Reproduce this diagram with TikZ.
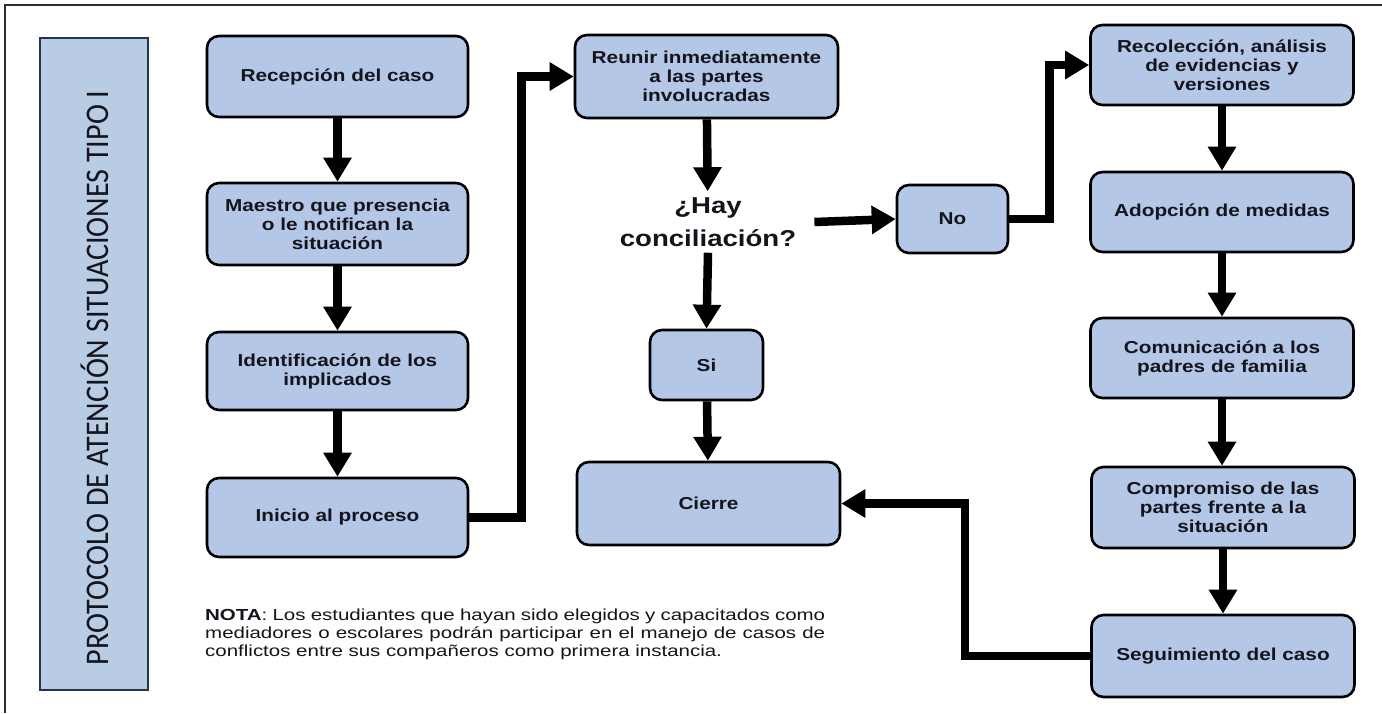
\documentclass[tikz,border=0pt]{standalone}
\usepackage{fontspec}
\usetikzlibrary{arrows.meta}
\newfontfamily\boxfont[FakeStretch=1.2]{Liberation Sans}
\newfontfamily\notefont[FakeStretch=1.28]{Liberation Sans}
\newfontfamily\titlefont{Carlito}
\definecolor{boxblue}{RGB}{180,199,231}
\definecolor{titleblue}{RGB}{184,204,228}
\definecolor{titleedge}{RGB}{38,52,78}
\definecolor{framegray}{RGB}{45,45,45}
\definecolor{ink}{RGB}{20,20,28}
\tikzset{
  stepbox/.style={draw=black, line width=2.6pt, rounded corners=12pt, fill=boxblue,
    align=center, text=ink, inner sep=2pt,
    font=\boxfont\bfseries\fontsize{17.3}{19}\selectfont},
  arr/.style={line width=8.5pt, -{Triangle[width=27pt,length=24pt]}},
}
\begin{document}
\begin{tikzpicture}[x=1pt,y=-1pt]
\useasboundingbox (0,0) rectangle (1382,713);
% frame
\draw[framegray, line width=1.5pt] (5,713) coordinate (fb) -- (5,5) coordinate (fc) -- (1382,5) coordinate (fr);
% title bar
\node[draw=titleedge, line width=1.2pt, fill=titleblue, minimum width=108pt, minimum height=652pt, inner sep=0pt] (tb) at (94,364) {};
\node[rotate=90, text=ink, inner sep=0pt] (title) at (95,378)
  {\resizebox{575pt}{\height}{\titlefont\fontsize{33}{33}\selectfont PROTOCOLO DE ATENCIÓN SITUACIONES TIPO I}};
% column 1
\node[stepbox, minimum width=261pt, minimum height=81pt] (rec) at (337.5,76.5) {Recepción del caso};
\node[stepbox, minimum width=261pt, minimum height=82pt] (mae) at (337.5,224) {Maestro que presencia\\o le notifican la\\situación};
\node[stepbox, minimum width=261pt, minimum height=78pt] (ide) at (337.5,371) {Identificación de los\\implicados};
\node[stepbox, minimum width=261pt, minimum height=79pt] (ini) at (337.5,517.5) {Inicio al proceso};
% column 2
\node[stepbox, minimum width=263pt, minimum height=83pt] (reu) at (706.5,76.5) {Reunir inmediatamente\\a las partes\\involucradas};
\node[align=center, text=ink, inner xsep=18pt, inner ysep=6pt,
  font=\boxfont\bfseries\fontsize{23}{33}\selectfont] (hay) at (708,222) {¿Hay\\conciliación?};
\node[stepbox, minimum width=113pt, minimum height=70pt] (si) at (706.5,365) {Si};
\node[stepbox, minimum width=263pt, minimum height=83pt] (cie) at (708.5,503.5) {Cierre};
\node[stepbox, minimum width=111pt, minimum height=68pt] (no) at (952.5,219) {No};
% column 3
\node[stepbox, minimum width=263pt, minimum height=80pt] (rc2) at (1222,65) {Recolección, análisis\\de evidencias y\\versiones};
\node[stepbox, minimum width=263pt, minimum height=80pt] (ado) at (1222,212) {Adopción de medidas};
\node[stepbox, minimum width=263pt, minimum height=80pt] (com) at (1222,358) {Comunicación a los\\padres de familia};
\node[stepbox, minimum width=263pt, minimum height=81pt] (cmp) at (1223,507.5) {Compromiso de las\\partes frente a la\\situación};
\node[stepbox, minimum width=263pt, minimum height=82pt] (seg) at (1223,656) {Seguimiento del caso};
% note
\node[anchor=base west, align=left, text=ink, inner sep=0pt,
  font=\notefont\fontsize{16}{18}\selectfont] (nota) at (205,656)
  {\makebox[620pt][s]{\textbf{NOTA}: Los estudiantes que hayan sido elegidos y capacitados como}\\
   \makebox[620pt][s]{mediadores o escolares podrán participar en el manejo de casos de}\\
   conflictos entre sus compañeros como primera instancia.};
% connectors
\draw[arr] (rec) -- (mae);
\draw[arr] (mae) -- (ide);
\draw[arr] (ide) -- (ini);
\draw[arr] (ini.east) -- ++(52,0) |- (reu.west);
\draw[arr] (reu) -- (hay);
\draw[arr] (hay.south) -- (si.north);
\draw[arr] (si) -- (cie);
\draw[arr] (hay.east) -- (no.west);
\draw[arr] (no.east) -- ++(40,0) |- (rc2.west);
\draw[arr] (rc2.south) -- (ado.north -| rc2.south);
\draw[arr] (ado.south) -- (com.north -| ado.south);
\draw[arr] (com.south) -- (cmp.north -| com.south);
\draw[arr] (cmp.south) -- (seg.north -| cmp.south);
\draw[arr] (seg.west) -- ++(-125,0) |- (cie.east);
\end{tikzpicture}
\end{document}
